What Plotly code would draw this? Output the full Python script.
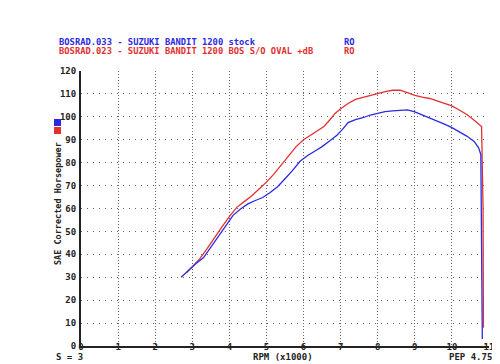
import plotly.graph_objects as go

# ---- data ----
stock_rpm = [2.70, 2.9, 3.1, 3.3, 3.5, 3.7, 3.9, 4.1, 4.3, 4.5, 4.7, 4.9, 5.1, 5.3, 5.5, 5.7, 5.9,
             6.1, 6.3, 6.5, 6.7, 6.9, 7.05, 7.2, 7.4, 7.6, 7.8, 8.0, 8.2, 8.4, 8.6, 8.8, 9.0,
             9.2, 9.4, 9.6, 9.8, 10.0, 10.2, 10.4, 10.6, 10.72, 10.78, 10.81, 10.82]
stock_hp = [30, 33, 36, 38.5, 43, 47.5, 52.5, 57, 59.8, 62, 63.5, 64.8, 67, 69.5, 73, 76.5, 80.5,
            83, 85, 87, 89.5, 92, 94.5, 97.5, 98.8, 99.6, 100.8, 101.6, 102.3, 102.6, 102.8, 103, 102.2,
            100.9, 99.6, 98.2, 96.8, 95.3, 93.5, 91.6, 89.3, 86.5, 83.5, 40, 3]

mod_rpm = [2.85, 3.0, 3.2, 3.4, 3.6, 3.8, 4.0, 4.2, 4.4, 4.6, 4.8, 5.0, 5.2, 5.4, 5.6, 5.8, 6.0,
           6.2, 6.4, 6.55, 6.7, 6.85, 7.0, 7.2, 7.4, 7.6, 7.8, 8.0, 8.2, 8.4, 8.6, 8.8, 9.0,
           9.2, 9.4, 9.6, 9.8, 10.0, 10.2, 10.4, 10.6, 10.8, 10.84, 10.85]
mod_hp = [32, 34.5, 38, 42.5, 47.5, 52, 56.5, 60.5, 63, 65.5, 68.5, 71.5, 75, 79, 83, 87, 90,
          92, 94, 95.8, 98.5, 101.5, 103.5, 105.8, 107.6, 108.5, 109.5, 110.3, 111, 111.6, 111.6, 110.6, 109.4,
          108.6, 108, 107, 106, 104.8, 103, 101, 98.5, 95.8, 60, 8]

x_ticks = list(range(0, 12))
y_ticks = list(range(0, 130, 10))

title_stock = "BOSRAD.033 - SUZUKI BANDIT 1200 stock"
title_mod = "BOSRAD.023 - SUZUKI BANDIT 1200 BOS S/O OVAL +dB"
run_tag = "RO"

BLUE = "#2a2ae0"
RED = "#e23030"
FONT = "DejaVu Sans Mono"

# page body has an 8px margin, so work in figure coords = screen coords - 8
OFF = 8
W, H = 500 - OFF, 364 - OFF
L, R, T, B = 81 - OFF, 489 - OFF, 71 - OFF, 346 - OFF


def px(x):
    return (x - OFF - L) / (R - L)


def py(y):
    return (B - (y - OFF)) / (B - T)


fig = go.Figure()
fig.add_trace(go.Scatter(x=mod_rpm, y=mod_hp, mode="lines",
                         line=dict(color=RED, width=1.3), showlegend=False))
fig.add_trace(go.Scatter(x=stock_rpm, y=stock_hp, mode="lines",
                         line=dict(color=BLUE, width=1.3), showlegend=False))

tickfont = dict(family=FONT, size=9, color="#222", weight="bold")
fig.update_xaxes(range=[0, 11], tickvals=x_ticks, ticktext=[str(v) for v in x_ticks],
                 showgrid=True, gridcolor="#666", griddash="1px,2px", gridwidth=1,
                 showline=True, linecolor="#222", linewidth=2, zeroline=False,
                 ticks="", tickfont=tickfont, ticklabelstandoff=-9, automargin=False)
fig.update_yaxes(range=[0, 120], tickvals=y_ticks, ticktext=[str(v) for v in y_ticks],
                 showgrid=True, gridcolor="#666", griddash="1px,5px", gridwidth=1,
                 showline=True, linecolor="#222", linewidth=2, zeroline=False,
                 ticks="", tickfont=tickfont, ticklabelstandoff=1, automargin=False)

ann = []


def text(x, y, s, color="#222", size=9, anchor="left", angle=0):
    ann.append(dict(x=px(x), y=py(y), xref="paper", yref="paper", text=s, showarrow=False,
                    xanchor=anchor, yanchor="middle", textangle=angle, borderpad=0,
                    font=dict(family=FONT, size=size, color=color, weight="bold")))


text(58, 41.5, title_stock, BLUE, 8.8)
text(343, 41.5, run_tag, BLUE, 8.8)
text(58, 50.5, title_mod, RED, 8.8)
text(343, 50.5, run_tag, RED, 8.8)
text(58, 204, "SAE Corrected Horsepower", "#222", 8.5, "center", -90)
text(55, 357, "S = 3", "#222", 9)
text(283, 357, "RPM (x1000)", "#222", 9, "center")
text(448, 357, "PEP 4.75E", "#222", 9)

shapes = [
    dict(type="rect", xref="paper", yref="paper", x0=px(54), x1=px(61), y0=py(119), y1=py(126),
         fillcolor=BLUE, line=dict(width=0)),
    dict(type="rect", xref="paper", yref="paper", x0=px(54), x1=px(61), y0=py(127), y1=py(134),
         fillcolor=RED, line=dict(width=0)),
]

fig.update_layout(width=W, height=H,
                  margin=dict(l=L, r=W - R, t=T, b=H - B, autoexpand=False),
                  paper_bgcolor="white", plot_bgcolor="white",
                  annotations=ann, shapes=shapes, showlegend=False)

fig.write_html("out.html")
